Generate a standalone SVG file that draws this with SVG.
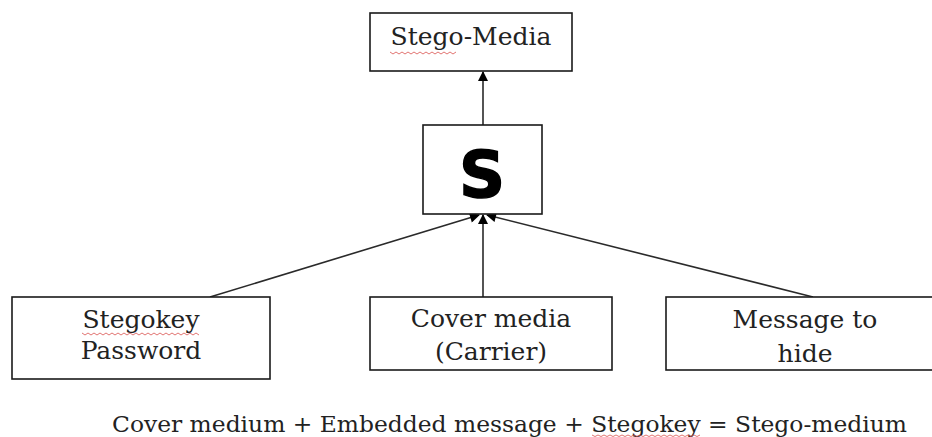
<svg xmlns="http://www.w3.org/2000/svg" width="932" height="437" viewBox="0 0 932 437">
  <defs>
    <style>
      .box { fill: #ffffff; stroke: #1a1a1a; stroke-width: 1.6; }
      .lbl { font-family: "DejaVu Serif", "Liberation Serif", serif; font-size: 25px; fill: #222; text-anchor: middle; }
      .big { font-family: "DejaVu Sans", "Liberation Sans", sans-serif; font-weight: bold; font-size: 64px; fill: #000; text-anchor: middle; stroke: #000; stroke-width: 1.5; }
      .edge { stroke: #2a2a2a; stroke-width: 1.6; fill: none; marker-end: url(#arrow); }
      .squig { stroke: #d9534f; stroke-width: 1; fill: none; opacity: 0.8; }
    </style>
    <marker id="arrow" viewBox="0 0 10 10" refX="9" refY="5" markerWidth="11" markerHeight="10" markerUnits="userSpaceOnUse" orient="auto">
      <path d="M0,0 L10,5 L0,10 z" fill="#000"/>
    </marker>
  </defs>
  <rect width="932" height="437" fill="#ffffff"/>

  <g id="connectors">
    <line class="edge" x1="483" y1="125" x2="483" y2="72"/>
    <line class="edge" x1="210" y1="297" x2="479" y2="215"/>
    <line class="edge" x1="483" y1="297" x2="483" y2="215"/>
    <line class="edge" x1="813" y1="297" x2="487" y2="215"/>
  </g>

  <g id="stego-media">
    <rect class="box" x="370" y="13" width="202" height="58"/>
    <text class="lbl" x="471" y="45">Stego-Media</text>
    <path class="squig" d="M390,52 l3,2 l3,-2 l3,2 l3,-2 l3,2 l3,-2 l3,2 l3,-2 l3,2 l3,-2 l3,2 l3,-2 l3,2 l3,-2 l3,2 l3,-2 l3,2 l3,-2 l3,2 l3,-2 l3,2 l3,-2"/>
  </g>

  <g id="s-node">
    <rect class="box" x="423" y="125" width="119" height="89"/>
    <text class="big" x="482" y="197">S</text>
  </g>

  <g id="stegokey">
    <rect class="box" x="12" y="297" width="258" height="82"/>
    <text class="lbl" x="141" y="328">Stegokey</text>
    <text class="lbl" x="141" y="359">Password</text>
    <path class="squig" d="M82,333 l3,2 l3,-2 l3,2 l3,-2 l3,2 l3,-2 l3,2 l3,-2 l3,2 l3,-2 l3,2 l3,-2 l3,2 l3,-2 l3,2 l3,-2 l3,2 l3,-2 l3,2 l3,-2 l3,2 l3,-2 l3,2 l3,-2 l3,2 l3,-2 l3,2 l3,-2 l3,2 l3,-2 l3,2 l3,-2 l3,2 l3,-2 l3,2 l3,-2 l3,2 l3,-2 l3,2"/>
  </g>

  <g id="cover-media">
    <rect class="box" x="370" y="297" width="242" height="73"/>
    <text class="lbl" x="491" y="327">Cover media</text>
    <text class="lbl" x="491" y="360">(Carrier)</text>
  </g>

  <g id="message">
    <rect class="box" x="666" y="297" width="280" height="73"/>
    <text class="lbl" x="805" y="328">Message to</text>
    <text class="lbl" x="805" y="362">hide</text>
  </g>

  <g id="caption">
    <text x="112" y="432" font-family="DejaVu Serif, Liberation Serif, serif" font-size="23" fill="#222" textLength="795" lengthAdjust="spacingAndGlyphs">Cover medium + Embedded message + Stegokey = Stego-medium</text>
    <path class="squig" d="M592,435 l3,1.5 l3,-1.5 l3,1.5 l3,-1.5 l3,1.5 l3,-1.5 l3,1.5 l3,-1.5 l3,1.5 l3,-1.5 l3,1.5 l3,-1.5 l3,1.5 l3,-1.5 l3,1.5 l3,-1.5 l3,1.5 l3,-1.5 l3,1.5 l3,-1.5 l3,1.5 l3,-1.5 l3,1.5 l3,-1.5 l3,1.5 l3,-1.5 l3,1.5 l3,-1.5 l3,1.5 l3,-1.5 l3,1.5 l3,-1.5 l3,1.5 l3,-1.5 l3,1.5 l3,-1.5"/>
  </g>
</svg>
